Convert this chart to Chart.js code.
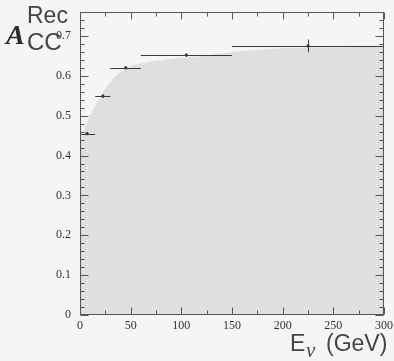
<!DOCTYPE html>
<html>
<head>
<meta charset="utf-8">
<style>
  html, body { margin: 0; padding: 0; background: #f5f5f4; }
  #wrap { width: 394px; height: 361px; position: relative; }
</style>
<script src="https://cdn.jsdelivr.net/npm/chart.js@4/dist/chart.umd.min.js"></script>
</head>
<body>
<div id="wrap"><canvas id="c" width="394" height="361"></canvas></div>
<script>
// Reconstruction acceptance for CC events per neutrino energy bin
const binLow    = [0, 15, 30, 60, 150];
const binHigh   = [15, 30, 60, 150, 300];
const binCenter = [7, 22.5, 45, 105, 225];
const accValue  = [0.455, 0.549, 0.620, 0.652, 0.675];
const accError  = [0.004, 0.004, 0.004, 0.004, 0.016];

// Smooth acceptance curve (shaded band)
const curveE = [0, 7, 17, 27, 37, 50, 62, 91, 124, 148, 200, 300];
const curveA = [0.434, 0.483, 0.533, 0.575, 0.604, 0.624, 0.632, 0.643, 0.651, 0.659, 0.669, 0.673];

// Axis ticks
const xTickValues = [0, 50, 100, 150, 200, 250, 300];
const yTickValues = [0, 0.1, 0.2, 0.3, 0.4, 0.5, 0.6, 0.7];

const SERIF = '"Liberation Serif", "DejaVu Serif", serif';
const SANS = '"Liberation Sans", Arial, sans-serif';
const INK = '#333';

const framePlugin = {
  id: 'frame',
  beforeDraw(chart) {
    const ctx = chart.ctx;
    ctx.save();
    ctx.fillStyle = '#f5f5f4';
    ctx.fillRect(0, 0, chart.width, chart.height);
    ctx.restore();
  },
  afterDatasetsDraw(chart) {
    const { ctx, scales: { x, y } } = chart;
    ctx.save();
    ctx.strokeStyle = '#3a3a3a';
    ctx.lineWidth = 1;
    for (let i = 0; i < accValue.length; i++) {
      const yc = Math.round(y.getPixelForValue(accValue[i])) + 0.5;
      const x0 = x.getPixelForValue(binLow[i]);
      const x1 = x.getPixelForValue(binHigh[i]);
      ctx.beginPath();
      ctx.moveTo(x0, yc);
      ctx.lineTo(x1, yc);
      const xc = Math.round(x.getPixelForValue(binCenter[i])) + 0.5;
      ctx.moveTo(xc, y.getPixelForValue(accValue[i] - accError[i]));
      ctx.lineTo(xc, y.getPixelForValue(accValue[i] + accError[i]));
      ctx.stroke();
    }
    ctx.restore();
  },
  afterDraw(chart) {
    const { ctx, chartArea: a, scales: { x, y } } = chart;
    ctx.save();
    ctx.strokeStyle = '#555';
    ctx.lineWidth = 1;
    const L = Math.round(a.left) + 0.5, R = Math.round(a.right) - 0.5;
    const T = Math.round(a.top) + 0.5, B = Math.round(a.bottom) - 0.5;
    ctx.strokeRect(L, T, R - L, B - T);

    // inward ticks on all four sides
    ctx.beginPath();
    for (let v = 0; v <= 300; v += 25) {
      const px = Math.round(x.getPixelForValue(v)) + 0.5;
      const len = v % 50 === 0 ? 7 : 4;
      ctx.moveTo(px, B); ctx.lineTo(px, B - len);
      ctx.moveTo(px, T); ctx.lineTo(px, T + len);
    }
    for (let k = 0; k <= 38; k++) {
      const v = k * 0.02;
      const py = Math.round(y.getPixelForValue(v)) + 0.5;
      const len = k % 5 === 0 ? 8 : 4;
      ctx.moveTo(L, py); ctx.lineTo(L + len, py);
      ctx.moveTo(R, py); ctx.lineTo(R - len, py);
    }
    ctx.stroke();

    // y axis title: A with Rec / CC
    ctx.fillStyle = '#2a2a2a';
    ctx.textBaseline = 'alphabetic';
    ctx.textAlign = 'left';
    ctx.font = 'italic bold 28px ' + SERIF;
    ctx.fillText('A', 6, 44);
    ctx.fillStyle = '#444';
    ctx.font = '23px ' + SANS;
    ctx.fillText('Rec', 27, 23);
    ctx.font = '24px ' + SANS;
    ctx.fillText('CC', 27, 50);

    // x axis title: E_nu (GeV)
    ctx.font = '23px ' + SANS;
    ctx.fillText('E', 290, 351);
    ctx.font = 'italic 21px ' + SERIF;
    ctx.fillText('ν', 306, 357);
    ctx.font = '23px ' + SANS;
    ctx.fillText('(GeV)', 326, 351);
    ctx.restore();
  }
};

new Chart(document.getElementById('c'), {
  type: 'scatter',
  data: {
    datasets: [
      {
        type: 'line',
        data: curveE.map((e, i) => ({ x: e, y: curveA[i] })),
        fill: 'origin',
        backgroundColor: '#dfdfde',
        borderWidth: 0,
        borderColor: 'rgba(0,0,0,0)',
        pointRadius: 0,
        cubicInterpolationMode: 'monotone',
        order: 2
      },
      {
        type: 'scatter',
        data: binCenter.map((e, i) => ({ x: e, y: accValue[i] })),
        pointRadius: 1.6,
        pointBackgroundColor: '#333',
        pointBorderWidth: 0,
        order: 1
      }
    ]
  },
  options: {
    responsive: false,
    animation: false,
    devicePixelRatio: 1,
    layout: { padding: { top: 12, right: 10, left: 0, bottom: 0 } },
    plugins: { legend: { display: false }, tooltip: { enabled: false } },
    scales: {
      x: {
        type: 'linear',
        min: 0, max: 300,
        afterBuildTicks(s) { s.ticks = xTickValues.map(v => ({ value: v })); },
        ticks: {
          padding: 4, color: INK, maxRotation: 0, autoSkip: false,
          font: { family: SERIF, size: 12 },
          callback: v => String(v)
        },
        grid: { display: false, drawTicks: false },
        border: { display: false },
        afterFit(s) { s.height = 46; s.paddingLeft = 0; s.paddingRight = 0; }
      },
      y: {
        type: 'linear',
        min: 0, max: 0.76,
        afterBuildTicks(s) { s.ticks = yTickValues.map(v => ({ value: v })); },
        ticks: {
          padding: 9, color: INK, autoSkip: false,
          font: { family: SERIF, size: 12 },
          callback: v => (v === 0 ? '0' : v.toFixed(1))
        },
        grid: { display: false, drawTicks: false },
        border: { display: false },
        afterFit(s) { s.width = 80; s.paddingTop = 0; s.paddingBottom = 0; }
      }
    }
  },
  plugins: [framePlugin]
});
</script>
</body>
</html>
